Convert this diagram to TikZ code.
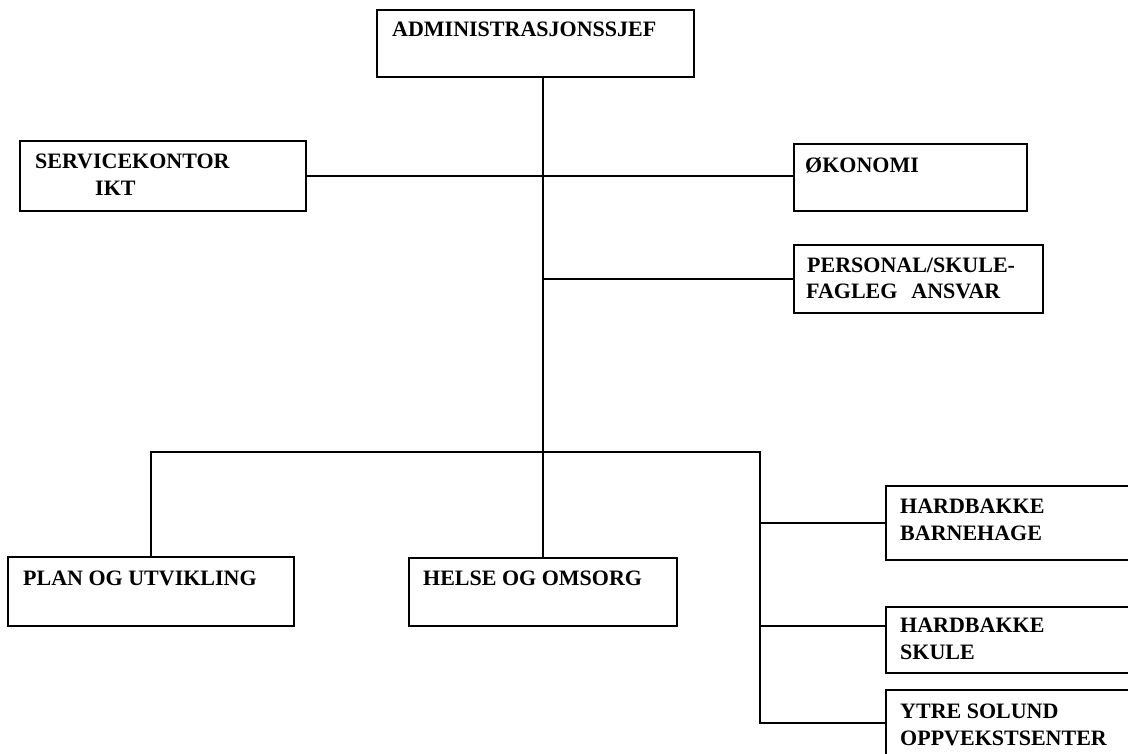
\documentclass[tikz,border=0pt]{standalone}
\usepackage{fontspec}
\setmainfont{Liberation Serif}
\usetikzlibrary{calc}
\begin{document}
\begin{tikzpicture}[x=1pt,y=-1pt,
  box/.style={draw, line width=1.6pt, rectangle, inner sep=0pt, anchor=north west},
  lbl/.style={font=\fontsize{22}{26}\selectfont\bfseries, inner sep=0pt, anchor=base west},
  link/.style={line width=1.6pt}]
\useasboundingbox (0,0) rectangle (1128,753);
\clip (0,0) rectangle (1128,753);

% boxes
\node[box, minimum width=317pt, minimum height=67pt] (admin) at (376,9) {};
\node[box, minimum width=286pt, minimum height=70pt] (svc)   at (19,140) {};
\node[box, minimum width=233pt, minimum height=67pt] (oko)   at (793,143) {};
\node[box, minimum width=249pt, minimum height=68pt] (pers)  at (793,244) {};
\node[box, minimum width=286pt, minimum height=69pt] (plan)  at (7,556) {};
\node[box, minimum width=268pt, minimum height=68pt] (helse) at (408,557) {};
\node[box, minimum width=250pt, minimum height=74pt] (barn)  at (885,485) {};
\node[box, minimum width=250pt, minimum height=66pt] (skule) at (885,606) {};
\node[box, minimum width=250pt, minimum height=66pt] (ytre)  at (885,689) {};

% labels
\node[lbl] (tadmin) at (392,36)  {ADMINISTRASJONSSJEF};
\node[lbl] (tsvc1)  at (35,168)  {SERVICEKONTOR};
\node[lbl] (tsvc2)  at (95,195)  {IKT};
\node[lbl] (toko)   at (805,172) {ØKONOMI};
\node[lbl] (tpers1) at (807,272) {PERSONAL/SKULE-};
\node[lbl] (tpers2) at (806,298) {FAGLEG\hspace{14pt}ANSVAR};
\node[lbl] (tplan)  at (23,585)  {PLAN OG UTVIKLING};
\node[lbl] (thelse) at (423,585) {HELSE OG OMSORG};
\node[lbl] (tbarn1) at (900,513) {HARDBAKKE};
\node[lbl] (tbarn2) at (900,540) {BARNEHAGE};
\node[lbl] (tsk1)   at (900,632) {HARDBAKKE};
\node[lbl] (tsk2)   at (900,659) {SKULE};
\node[lbl] (tyt1)   at (900,718) {YTRE SOLUND};
\node[lbl] (tyt2)   at (900,745) {OPPVEKSTSENTER};

% connector helpers
\coordinate (spine)  at (543,0);
\coordinate (bar)    at (0,452);
\coordinate (branch) at (760,0);
\coordinate (skulein) at ($(skule.north west)+(0,20)$);

% connectors
\draw[link] (admin.south -| spine) -- (helse.north -| spine);
\draw[link] (svc.east) -- (svc.east -| oko.west);
\draw[link] (pers.west -| spine) -- (pers.west);
\draw[link] (plan.north) |- (bar -| branch) |- (ytre.west);
\draw[link] (branch |- barn.west) -- (barn.west);
\draw[link] (branch |- skulein) -- (skulein);
\end{tikzpicture}
\end{document}
